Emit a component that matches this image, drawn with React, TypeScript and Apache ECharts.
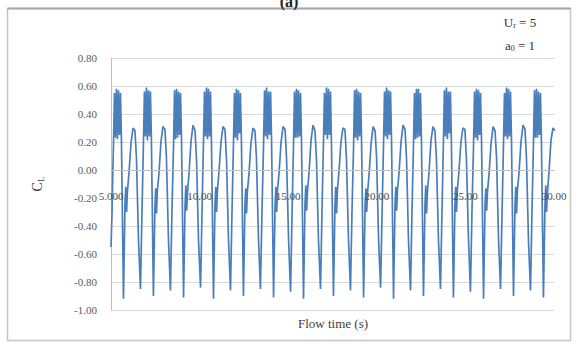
import React, { useEffect, useRef } from "react";
import * as echarts from "echarts";

// Flow time (s) at which each large lift peak starts
const cycleStart = [5.14, 6.83, 8.53, 10.22, 11.91, 13.61, 15.3, 16.99, 18.69, 20.38, 22.07, 23.76, 25.46, 27.15, 28.84];
// time offsets (s) inside one shedding cycle where samples were read
const cycleOffset = [0, 0.056, 0.113, 0.169, 0.226, 0.282, 0.339, 0.395, 0.451, 0.564, 0.649, 0.694, 0.739, 0.784, 0.875, 0.988, 1.1, 1.213, 1.298, 1.411, 1.524, 1.608];
// CL values read for each cycle
const cycleValues = [
  [0.18, 0.55, 0.23, 0.58, 0.22, 0.57, 0.25, 0.55, 0.2, -0.92, -0.24, -0.12, -0.3, -0.16, -0.02, 0.19, 0.3, 0.28, 0.08, -0.5, -0.85, -0.3],
  [0.19, 0.56, 0.24, 0.59, 0.21, 0.57, 0.24, 0.56, 0.21, -0.9, -0.26, -0.13, -0.31, -0.15, -0.03, 0.2, 0.31, 0.29, 0.09, -0.49, -0.86, -0.31],
  [0.18, 0.57, 0.22, 0.58, 0.23, 0.56, 0.25, 0.55, 0.2, -0.91, -0.25, -0.11, -0.29, -0.17, -0.02, 0.21, 0.32, 0.28, 0.07, -0.51, -0.84, -0.29],
  [0.2, 0.56, 0.24, 0.59, 0.22, 0.58, 0.24, 0.56, 0.19, -0.92, -0.24, -0.12, -0.3, -0.15, -0.01, 0.2, 0.31, 0.29, 0.08, -0.5, -0.86, -0.3],
  [0.18, 0.55, 0.23, 0.58, 0.21, 0.57, 0.26, 0.55, 0.2, -0.9, -0.25, -0.13, -0.31, -0.16, -0.03, 0.19, 0.3, 0.28, 0.09, -0.48, -0.85, -0.31],
  [0.19, 0.57, 0.24, 0.59, 0.22, 0.56, 0.25, 0.56, 0.21, -0.91, -0.26, -0.12, -0.3, -0.15, -0.02, 0.2, 0.31, 0.29, 0.08, -0.5, -0.87, -0.3],
  [0.18, 0.56, 0.23, 0.58, 0.23, 0.57, 0.24, 0.55, 0.2, -0.92, -0.24, -0.11, -0.29, -0.16, -0.02, 0.21, 0.32, 0.28, 0.07, -0.51, -0.85, -0.29],
  [0.2, 0.55, 0.25, 0.59, 0.22, 0.58, 0.25, 0.56, 0.19, -0.9, -0.25, -0.12, -0.31, -0.15, -0.01, 0.2, 0.3, 0.29, 0.08, -0.49, -0.86, -0.31],
  [0.18, 0.57, 0.23, 0.58, 0.21, 0.56, 0.24, 0.55, 0.2, -0.91, -0.26, -0.13, -0.3, -0.17, -0.03, 0.19, 0.31, 0.28, 0.09, -0.5, -0.84, -0.3],
  [0.19, 0.56, 0.24, 0.59, 0.22, 0.57, 0.25, 0.56, 0.21, -0.92, -0.24, -0.12, -0.29, -0.15, -0.02, 0.2, 0.32, 0.29, 0.08, -0.51, -0.86, -0.29],
  [0.18, 0.55, 0.22, 0.58, 0.23, 0.58, 0.24, 0.55, 0.2, -0.9, -0.25, -0.11, -0.31, -0.16, -0.02, 0.21, 0.31, 0.28, 0.07, -0.5, -0.85, -0.3],
  [0.2, 0.57, 0.24, 0.59, 0.22, 0.56, 0.26, 0.56, 0.19, -0.91, -0.26, -0.12, -0.3, -0.15, -0.01, 0.2, 0.3, 0.29, 0.08, -0.48, -0.87, -0.31],
  [0.18, 0.56, 0.23, 0.58, 0.21, 0.57, 0.25, 0.55, 0.2, -0.92, -0.24, -0.13, -0.29, -0.16, -0.03, 0.19, 0.31, 0.28, 0.09, -0.5, -0.85, -0.3],
  [0.19, 0.55, 0.24, 0.59, 0.22, 0.58, 0.24, 0.56, 0.21, -0.9, -0.25, -0.12, -0.31, -0.15, -0.02, 0.2, 0.32, 0.29, 0.08, -0.51, -0.86, -0.29],
  [0.18, 0.57, 0.23, 0.58, 0.23, 0.56, 0.25, 0.55, 0.2, -0.91, -0.26, -0.11, -0.3, -0.17, -0.02, 0.21, 0.3, 0.28, 0.07, -0.49, -0.85, -0.3],
];
// samples before the first peak
const leadInTime = [5.0, 5.06, 5.1];
const leadInValue = [-0.55, -0.3, -0.02];

const SERIF = "'Liberation Serif', 'Times New Roman', serif";

export default function App() {
  const ref = useRef<HTMLDivElement>(null);
  useEffect(() => {
    if (!ref.current) return;
    const chart = echarts.init(ref.current, undefined, { renderer: "svg" });
    const data: number[][] = leadInTime.map((t, i) => [t, leadInValue[i]]);
    cycleStart.forEach((s, k) => {
      cycleOffset.forEach((o, j) => {
        const t = +(s + o).toFixed(3);
        if (t <= 30.1) data.push([t, cycleValues[k][j]]);
      });
    });
    chart.setOption({
      animation: false,
      backgroundColor: "#ffffff",
      grid: { left: 111, right: 24, top: 58, bottom: 39 },
      xAxis: {
        type: "value",
        min: 5,
        max: 30,
        interval: 5,
        position: "bottom",
        offset: -140,
        z: 5,
        axisLine: { onZero: false, lineStyle: { color: "#bfbfbf", width: 1 } },
        axisTick: { show: false },
        splitLine: { show: false },
        axisLabel: {
          margin: 20,
          color: "#4d4d4d",
          fontFamily: SERIF,
          fontSize: 11,
          formatter: (v: number) => (v < 10 ? v.toFixed(3) : v.toFixed(2)),
        },
      },
      yAxis: {
        type: "value",
        min: -1,
        max: 0.8,
        interval: 0.2,
        axisLine: { show: true, onZero: false, lineStyle: { color: "#bfbfbf" } },
        axisTick: { show: false },
        splitLine: { show: true, lineStyle: { color: "#d9d9d9", width: 1 } },
        axisLabel: {
          margin: 14,
          color: "#595959",
          fontFamily: SERIF,
          fontSize: 11,
          formatter: (v: number) => v.toFixed(2),
        },
        name: "{c|C}{s|L}",
        nameLocation: "middle",
        nameRotate: 90,
        nameGap: 66,
        nameTextStyle: {
          rich: {
            c: { fontSize: 14, fontFamily: SERIF, color: "#404040" },
            s: { fontSize: 9, fontFamily: SERIF, color: "#404040", verticalAlign: "bottom", padding: [6, 0, 0, 0] },
          },
        },
      },
      series: [
        {
          type: "line",
          data,
          showSymbol: false,
          symbol: "none",
          lineStyle: { color: "#4a7ebb", width: 1.7 },
          clip: true,
          z: 1,
        },
      ],
      graphic: [
        {
          type: "rect",
          shape: { x: 7.5, y: 8.5, width: 563, height: 332 },
          style: { fill: "none", stroke: "#c4c4c4", lineWidth: 1.5 },
          silent: true,
        },
        {
          type: "line",
          shape: { x1: 7.5, y1: 8.5, x2: 570.5, y2: 8.5 },
          style: { stroke: "#a8a8a8", lineWidth: 2 },
          silent: true,
        },
        {
          type: "text",
          x: 289,
          y: 1,
          style: {
            text: "(a)",
            fontSize: 16,
            fontWeight: "bold",
            fontFamily: SERIF,
            fill: "#222222",
            align: "center",
            verticalAlign: "middle",
          },
        },
        {
          type: "text",
          x: 520,
          y: 22,
          style: {
            text: "{m|U}{s|r}{m| = 5}",
            align: "center",
            verticalAlign: "middle",
            rich: {
              m: { fontSize: 13, fontFamily: SERIF, fill: "#333333" },
              s: { fontSize: 8, fontFamily: SERIF, fill: "#333333", verticalAlign: "bottom", padding: [6, 0, 0, 0] },
            },
          },
        },
        {
          type: "text",
          x: 520,
          y: 45,
          style: {
            text: "{m|a}{s|0}{m| = 1}",
            align: "center",
            verticalAlign: "middle",
            rich: {
              m: { fontSize: 13, fontFamily: SERIF, fill: "#333333" },
              s: { fontSize: 8, fontFamily: SERIF, fill: "#333333", verticalAlign: "bottom", padding: [6, 0, 0, 0] },
            },
          },
        },
        {
          type: "text",
          x: 333,
          y: 323,
          style: {
            text: "Flow time (s)",
            fontSize: 13,
            fontFamily: SERIF,
            fill: "#404040",
            align: "center",
            verticalAlign: "middle",
          },
        },
      ],
    });
    return () => chart.dispose();
  }, []);
  return (
    <div
      ref={ref}
      style={{ position: "fixed", left: 0, top: 0, width: 578, height: 349, background: "#fff" }}
    />
  );
}
